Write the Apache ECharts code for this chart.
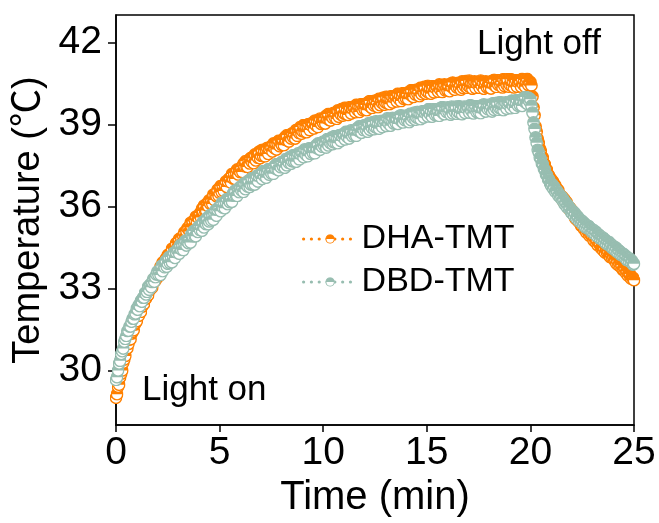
<!DOCTYPE html>
<html>
<head>
<meta charset="utf-8">
<script src="https://cdn.jsdelivr.net/npm/echarts@6/dist/echarts.min.js"></script>
<style>
html,body{margin:0;padding:0;background:#fff;}
#chart{width:659px;height:523px;}
</style>
</head>
<body>
<div id="chart"></div>
<script>
// Sampling: one reading every 0.05 min (3 s) from 0 to 25 min
const sampleStart = 0;
const sampleStep = 0.05;

// DHA-TMT temperature (°C), one row per half minute
const dhaTemp = [
  29.0, 29.13, 29.4, 29.48, 29.75, 29.88, 30.0, 30.28, 30.4, 30.53,
  30.8, 30.81, 30.97, 31.13, 31.14, 31.35, 31.41, 31.47, 31.68, 31.74,
  31.8, 32.01, 32.0, 32.17, 32.14, 32.33, 32.46, 32.43, 32.6, 32.63,
  32.81, 32.75, 33.0, 32.95, 33.12, 33.03, 33.23, 33.36, 33.28, 33.43,
  33.4, 33.61, 33.47, 33.8, 33.74, 33.95, 33.78, 33.8, 34.08, 33.99,
  34.22, 34.1, 34.25, 34.1, 34.45, 34.25, 34.48, 34.4, 34.65, 34.43,
  34.55, 34.81, 34.61, 34.85, 34.67, 34.93, 35.05, 34.87, 35.09, 35.2,
  35.23, 35.08, 35.4, 35.25, 35.45, 35.25, 35.5, 35.62, 35.45, 35.6,
  35.55, 35.75, 35.59, 35.91, 35.83, 36.03, 35.84, 35.85, 36.11, 36.01,
  36.22, 36.1, 36.24, 36.09, 36.43, 36.23, 36.45, 36.37, 36.61, 36.39,
  36.5, 36.74, 36.53, 36.75, 36.56, 36.8, 36.91, 36.71, 36.92, 37.01,
  37.03, 36.87, 37.18, 37.02, 37.21, 37.0, 37.24, 37.35, 37.17, 37.31,
  37.25, 37.43, 37.26, 37.56, 37.47, 37.65, 37.45, 37.44, 37.69, 37.57,
  37.77, 37.63, 37.75, 37.58, 37.9, 37.68, 37.88, 37.78, 38.0, 37.76,
  37.85, 38.07, 37.84, 38.04, 37.83, 38.05, 38.14, 37.92, 38.11, 38.18,
  38.18, 38.01, 38.3, 38.13, 38.3, 38.08, 38.3, 38.4, 38.2, 38.33,
  38.25, 38.42, 38.24, 38.53, 38.43, 38.6, 38.39, 38.37, 38.61, 38.48,
  38.67, 38.53, 38.65, 38.48, 38.8, 38.58, 38.78, 38.68, 38.9, 38.66,
  38.75, 38.97, 38.73, 38.93, 38.71, 38.93, 39.01, 38.79, 38.97, 39.04,
  39.03, 38.85, 39.14, 38.96, 39.13, 38.9, 39.12, 39.21, 39.01, 39.13,
  39.05, 39.22, 39.03, 39.32, 39.21, 39.38, 39.16, 39.14, 39.37, 39.24,
  39.42, 39.27, 39.38, 39.2, 39.51, 39.28, 39.47, 39.36, 39.57, 39.32,
  39.4, 39.61, 39.37, 39.56, 39.34, 39.55, 39.63, 39.4, 39.58, 39.64,
  39.63, 39.44, 39.72, 39.53, 39.69, 39.45, 39.66, 39.74, 39.53, 39.64,
  39.55, 39.71, 39.52, 39.8, 39.69, 39.85, 39.63, 39.6, 39.83, 39.69,
  39.87, 39.71, 39.82, 39.63, 39.94, 39.7, 39.89, 39.77, 39.98, 39.72,
  39.8, 40.01, 39.77, 39.96, 39.74, 39.95, 40.03, 39.8, 39.98, 40.04,
  40.03, 39.84, 40.12, 39.93, 40.09, 39.85, 40.06, 40.14, 39.93, 40.04,
  39.95, 40.11, 39.92, 40.2, 40.09, 40.25, 40.03, 40.0, 40.23, 40.09,
  40.27, 40.11, 40.22, 40.03, 40.34, 40.1, 40.29, 40.17, 40.38, 40.12,
  40.2, 40.41, 40.16, 40.35, 40.12, 40.33, 40.4, 40.17, 40.34, 40.4,
  40.38, 40.19, 40.46, 40.27, 40.42, 40.18, 40.38, 40.46, 40.24, 40.35,
  40.25, 40.41, 40.21, 40.49, 40.37, 40.53, 40.3, 40.27, 40.49, 40.35,
  40.52, 40.36, 40.46, 40.27, 40.57, 40.33, 40.51, 40.39, 40.59, 40.33,
  40.4, 40.6, 40.35, 40.53, 40.3, 40.5, 40.57, 40.33, 40.5, 40.55,
  40.53, 40.33, 40.6, 40.4, 40.55, 40.3, 40.5, 40.57, 40.35, 40.45,
  40.35, 40.51, 40.31, 40.59, 40.47, 40.63, 40.4, 40.37, 40.59, 40.45,
  40.62, 40.45, 40.55, 40.35, 40.65, 40.4, 40.58, 40.45, 40.65, 40.38,
  40.45, 40.65, 40.4, 40.58, 40.35, 40.55, 40.62, 40.38, 40.55, 40.6,
  40.58, 40.38, 40.66, 40.46, 40.62, 40.38, 40.58, 40.66, 40.44, 40.55,
  40.55, 40.42, 40.02, 39.62, 39.33, 38.92, 38.73, 38.47, 38.33, 38.12,
  38.03, 37.82, 37.78, 37.57, 37.53, 37.37, 37.33, 37.17, 37.13, 36.99,
  37.0, 36.83, 36.9, 36.73, 36.77, 36.58, 36.63, 36.59, 36.42, 36.41,
  36.3, 36.34, 36.17, 36.25, 36.13, 36.15, 35.98, 35.91, 35.96, 35.83,
  35.86, 35.72, 35.73, 35.58, 35.67, 35.5, 35.54, 35.42, 35.47, 35.29,
  35.27, 35.33, 35.16, 35.21, 35.05, 35.11, 35.09, 34.93, 34.97, 34.95,
  34.9, 34.75, 34.84, 34.69, 34.75, 34.58, 34.65, 34.63, 34.48, 34.49,
  34.4, 34.46, 34.31, 34.41, 34.31, 34.35, 34.2, 34.15, 34.22, 34.11,
  34.16, 34.03, 34.05, 33.91, 34.01, 33.85, 33.9, 33.79, 33.85, 33.68,
  33.67, 33.73, 33.57, 33.62, 33.47, 33.53, 33.52, 33.36, 33.41, 33.39,
  33.3
];

// DBD-TMT temperature (°C), one row per half minute
const dbdTemp = [
  29.65, 29.75, 30.0, 30.25, 30.35, 30.6, 30.7, 30.8, 31.05, 31.15,
  31.26, 31.44, 31.45, 31.61, 31.61, 31.78, 31.89, 31.89, 32.05, 32.08,
  32.26, 32.22, 32.39, 32.35, 32.55, 32.51, 32.66, 32.66, 32.83, 32.78,
  32.87, 33.06, 32.95, 33.14, 33.04, 33.23, 33.34, 33.24, 33.41, 33.51,
  33.62, 33.5, 33.64, 33.49, 33.83, 33.63, 33.85, 33.77, 34.01, 33.79,
  33.9, 34.14, 33.93, 34.15, 33.96, 34.2, 34.31, 34.11, 34.32, 34.41,
  34.43, 34.27, 34.58, 34.42, 34.61, 34.4, 34.64, 34.75, 34.57, 34.71,
  34.65, 34.84, 34.68, 34.99, 34.91, 35.1, 34.91, 34.91, 35.17, 35.06,
  35.27, 35.14, 35.27, 35.11, 35.44, 35.23, 35.44, 35.35, 35.58, 35.35,
  35.45, 35.69, 35.48, 35.7, 35.51, 35.75, 35.86, 35.66, 35.87, 35.96,
  35.98, 35.82, 36.12, 35.96, 36.14, 35.93, 36.16, 36.27, 36.08, 36.22,
  36.15, 36.34, 36.17, 36.48, 36.39, 36.58, 36.38, 36.38, 36.63, 36.52,
  36.72, 36.58, 36.7, 36.53, 36.85, 36.63, 36.83, 36.73, 36.95, 36.71,
  36.8, 37.03, 36.8, 37.01, 36.8, 37.03, 37.12, 36.91, 37.1, 37.18,
  37.18, 37.0, 37.29, 37.11, 37.28, 37.05, 37.27, 37.36, 37.16, 37.28,
  37.2, 37.37, 37.19, 37.48, 37.38, 37.55, 37.34, 37.32, 37.56, 37.43,
  37.62, 37.47, 37.59, 37.41, 37.73, 37.5, 37.7, 37.59, 37.81, 37.56,
  37.65, 37.87, 37.64, 37.84, 37.63, 37.85, 37.94, 37.72, 37.91, 37.98,
  37.98, 37.8, 38.08, 37.9, 38.06, 37.83, 38.04, 38.13, 37.92, 38.04,
  37.95, 38.12, 37.94, 38.23, 38.13, 38.3, 38.09, 38.07, 38.31, 38.18,
  38.37, 38.22, 38.33, 38.15, 38.46, 38.23, 38.42, 38.31, 38.52, 38.27,
  38.35, 38.57, 38.33, 38.53, 38.31, 38.53, 38.61, 38.39, 38.57, 38.64,
  38.63, 38.45, 38.73, 38.55, 38.71, 38.48, 38.69, 38.78, 38.57, 38.69,
  38.6, 38.77, 38.58, 38.87, 38.76, 38.93, 38.71, 38.69, 38.92, 38.79,
  38.97, 38.81, 38.92, 38.73, 39.04, 38.8, 38.99, 38.87, 39.08, 38.82,
  38.9, 39.11, 38.87, 39.06, 38.84, 39.05, 39.13, 38.9, 39.08, 39.14,
  39.13, 38.94, 39.22, 39.03, 39.19, 38.95, 39.16, 39.24, 39.03, 39.14,
  39.05, 39.21, 39.01, 39.29, 39.17, 39.33, 39.1, 39.07, 39.29, 39.15,
  39.32, 39.16, 39.27, 39.08, 39.39, 39.15, 39.34, 39.22, 39.43, 39.17,
  39.25, 39.46, 39.22, 39.41, 39.19, 39.4, 39.48, 39.25, 39.43, 39.49,
  39.48, 39.29, 39.56, 39.37, 39.52, 39.28, 39.48, 39.56, 39.34, 39.45,
  39.35, 39.51, 39.31, 39.59, 39.47, 39.63, 39.4, 39.37, 39.59, 39.45,
  39.62, 39.45, 39.55, 39.35, 39.65, 39.4, 39.58, 39.45, 39.65, 39.38,
  39.45, 39.66, 39.41, 39.6, 39.37, 39.58, 39.65, 39.42, 39.59, 39.65,
  39.63, 39.43, 39.7, 39.5, 39.65, 39.4, 39.6, 39.67, 39.45, 39.55,
  39.45, 39.61, 39.41, 39.69, 39.57, 39.73, 39.5, 39.47, 39.69, 39.55,
  39.72, 39.56, 39.66, 39.47, 39.77, 39.53, 39.71, 39.59, 39.79, 39.53,
  39.6, 39.81, 39.56, 39.75, 39.52, 39.73, 39.8, 39.57, 39.74, 39.8,
  39.78, 39.59, 39.87, 39.68, 39.84, 39.6, 39.81, 39.89, 39.68, 39.79,
  39.7, 39.86, 39.67, 39.95, 39.84, 40.0, 39.78, 39.75, 39.98, 39.84,
  39.92, 39.68, 39.43, 39.07, 38.83, 38.52, 38.33, 38.07, 37.98, 37.79,
  37.73, 37.57, 37.53, 37.37, 37.33, 37.17, 37.13, 36.99, 36.98, 36.84,
  36.76, 36.81, 36.65, 36.72, 36.54, 36.59, 36.55, 36.39, 36.44, 36.32,
  36.36, 36.21, 36.25, 36.08, 36.14, 35.98, 36.05, 35.92, 35.95, 35.79,
  35.76, 35.82, 35.67, 35.75, 35.58, 35.64, 35.61, 35.46, 35.52, 35.41,
  35.46, 35.33, 35.39, 35.24, 35.32, 35.2, 35.29, 35.16, 35.21, 35.07,
  35.06, 35.13, 34.99, 35.08, 34.92, 34.99, 34.97, 34.83, 34.9, 34.8,
  34.86, 34.73, 34.79, 34.64, 34.72, 34.6, 34.69, 34.56, 34.61, 34.47,
  34.46, 34.53, 34.39, 34.48, 34.32, 34.39, 34.37, 34.23, 34.3, 34.2,
  34.26, 34.13, 34.19, 34.04, 34.12, 34.0, 34.09, 33.96, 34.01, 33.87,
  33.9
];

const seriesNames = ['DHA-TMT', 'DBD-TMT'];
const seriesColors = ['#FF8000', '#97BDB0'];
const xTicks = [0, 5, 10, 15, 20, 25];
const yTicks = [30, 33, 36, 39, 42];
const annotations = ['Light off', 'Light on'];

const FONT = '"Liberation Sans", Arial, "Noto Sans CJK SC", sans-serif';

function toPairs(values) {
  return values.map((v, i) => [+(sampleStart + i * sampleStep).toFixed(2), v]);
}

function halfFilledCircle(color) {
  const svg = '<svg xmlns="http://www.w3.org/2000/svg" width="26" height="26" viewBox="0 0 26 26">' +
    '<circle cx="13" cy="13" r="11.4" fill="#ffffff" stroke="' + color + '" stroke-width="2.8"/>' +
    '<path d="M1.6 13 A11.4 11.4 0 0 1 24.4 13 Z" fill="' + color + '"/>' +
    '</svg>';
  return 'image://data:image/svg+xml;charset=utf-8,' + encodeURIComponent(svg);
}

const chart = echarts.init(document.getElementById('chart'), null, {renderer: 'canvas'});

const option = {
  animation: false,
  backgroundColor: '#ffffff',
  grid: {
    left: 116, right: 25, top: 15, bottom: 91,
    show: true, borderColor: '#000', borderWidth: 1.5, backgroundColor: 'transparent'
  },
  xAxis: {
    type: 'value',
    min: 0, max: 25, interval: 5,
    name: 'Time (min)',
    nameLocation: 'middle',
    nameGap: 44,
    nameTextStyle: {color: '#000', fontSize: 40, fontFamily: FONT},
    axisLine: {show: true, lineStyle: {color: '#000', width: 1.5}},
    axisTick: {show: true, inside: false, length: 7, lineStyle: {color: '#000', width: 1.5}, customValues: xTicks},
    axisLabel: {color: '#000', fontSize: 39, fontFamily: FONT, margin: 9, customValues: xTicks},
    splitLine: {show: false}
  },
  yAxis: {
    type: 'value',
    min: 28, max: 43,
    name: 'Temperature (℃)',
    nameLocation: 'middle',
    nameGap: 66,
    nameTextStyle: {color: '#000', fontSize: 38, fontFamily: FONT},
    axisLine: {show: true, lineStyle: {color: '#000', width: 1.5}},
    axisTick: {show: true, inside: false, length: 8, lineStyle: {color: '#000', width: 1.5}, customValues: yTicks},
    axisLabel: {color: '#000', fontSize: 39, fontFamily: FONT, margin: 14, customValues: yTicks},
    splitLine: {show: false}
  },
  legend: {
    orient: 'vertical',
    left: 297, top: 217,
    itemWidth: 53, itemHeight: 12, itemGap: 9, itemTextGap: 4,
    textStyle: {color: '#000', fontSize: 34, fontFamily: FONT},
    lineStyle: {opacity: 1, type: [0.01, 7.8], width: 3.2, cap: 'round'},
    data: seriesNames
  },
  graphic: [
    {type: 'text', left: 477, top: 27, style: {text: annotations[0], fill: '#000', font: '35px ' + FONT}},
    {type: 'text', left: 142, top: 373, style: {text: annotations[1], fill: '#000', font: '35px ' + FONT}}
  ],
  series: [dhaTemp, dbdTemp].map((vals, k) => ({
    name: seriesNames[k],
    type: 'line',
    data: toPairs(vals),
    symbol: halfFilledCircle(seriesColors[k]),
    symbolSize: 13,
    showSymbol: true,
    showAllSymbol: true,
    lineStyle: {color: seriesColors[k], opacity: 0, width: 0},
    itemStyle: {color: seriesColors[k]},
    emphasis: {disabled: true},
    z: 2 + k
  }))
};

chart.setOption(option);
</script>
</body>
</html>
